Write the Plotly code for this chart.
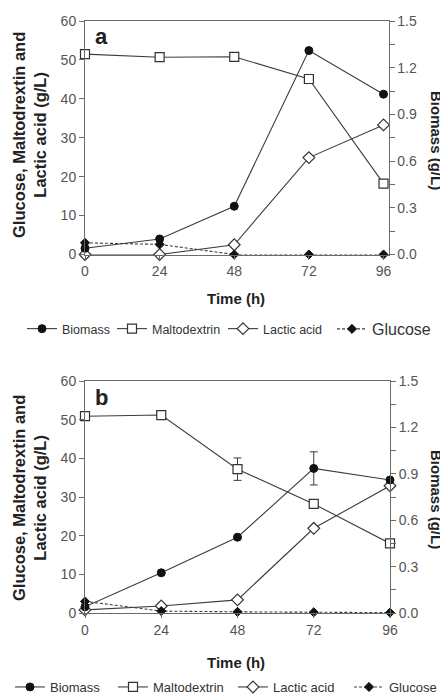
import plotly.graph_objects as go

# ---------------- data ----------------
time_h = [0, 24, 48, 72, 96]
x_tick_vals = [0, 24, 48, 72, 96]
left_tick_vals = [0, 10, 20, 30, 40, 50, 60]
right_tick_vals = [0.0, 0.3, 0.6, 0.9, 1.2, 1.5]
right_tick_text = ["0.0", "0.3", "0.6", "0.9", "1.2", "1.5"]

series_names = ["Biomass", "Maltodextrin", "Lactic acid", "Glucose"]

# Panel a
a_biomass = [0.04, 0.10, 0.31, 1.31, 1.03]          # g/L, right axis
a_biomass_err = [0, 0, 0, 0, 0]
a_maltodextrin = [51.5, 50.7, 50.8, 45.1, 18.2]     # g/L, left axis
a_maltodextrin_err = [0, 0, 0, 1.0, 0]
a_lactic = [0.0, 0.0, 2.5, 24.9, 33.3]
a_glucose = [3.0, 2.6, 0.0, 0.0, 0.0]

# Panel b
b_biomass = [0.04, 0.26, 0.49, 0.935, 0.86]
b_biomass_err = [0, 0, 0, 0.107, 0]
b_maltodextrin = [50.9, 51.2, 37.2, 28.2, 18.0]
b_maltodextrin_err = [0, 0, 2.9, 0, 0]
b_lactic = [0.8, 1.8, 3.4, 21.9, 32.9]
b_glucose = [3.0, 0.5, 0.3, 0.2, 0.1]

# ---------------- style ----------------
OFF = 8                      # page body margin
W, H = 448 - OFF, 697 - OFF
FONT = "Liberation Sans, Arial, Helvetica, sans-serif"
LINE = "#3c3c3c"
AXIS = "#6a6a6a"
TICKC = "#555555"


def px_x(p):
    return (p - OFF) / W


def px_y(p):
    return 1 - (p - OFF) / H


fig = go.Figure()


def add_panel(xa, yl, yr, biomass, biomass_err, malto, malto_err, lactic, glucose, legends):
    common = dict(x=time_h, mode="lines+markers", cliponaxis=False, xaxis=xa)
    fig.add_trace(go.Scatter(
        **common, y=biomass, yaxis=yr, name=series_names[0], legend=legends[0],
        line=dict(color=LINE, width=1.1),
        marker=dict(symbol="circle", size=8, color="#111111", line=dict(color="#111111", width=1)),
        error_y=dict(type="data", array=biomass_err, color=LINE, thickness=1, width=4,
                     visible=any(biomass_err)),
    ))
    fig.add_trace(go.Scatter(
        **common, y=malto, yaxis=yl, name=series_names[1], legend=legends[1],
        line=dict(color=LINE, width=1.1),
        marker=dict(symbol="square", size=9, color="white", line=dict(color="#333333", width=1.2)),
        error_y=dict(type="data", array=malto_err, color=LINE, thickness=1, width=4,
                     visible=any(malto_err)),
    ))
    fig.add_trace(go.Scatter(
        **common, y=lactic, yaxis=yl, name=series_names[2], legend=legends[2],
        line=dict(color=LINE, width=1.1),
        marker=dict(symbol="diamond", size=9, color="white", line=dict(color="#333333", width=1.2)),
    ))
    fig.add_trace(go.Scatter(
        **common, y=glucose, yaxis=yl, name=series_names[3], legend=legends[3],
        line=dict(color=LINE, width=1.1, dash="3px,2px"),
        marker=dict(symbol="diamond", size=7, color="#111111", line=dict(color="#111111", width=1)),
    ))


leg_ids_a = ["legend", "legend2", "legend3", "legend4"]
leg_ids_b = ["legend5", "legend6", "legend7", "legend8"]
add_panel("x", "y", "y2", a_biomass, a_biomass_err, a_maltodextrin, a_maltodextrin_err,
          a_lactic, a_glucose, leg_ids_a)
add_panel("x2", "y3", "y4", b_biomass, b_biomass_err, b_maltodextrin, b_maltodextrin_err,
          b_lactic, b_glucose, leg_ids_b)

tickfont = dict(family=FONT, size=14, color=TICKC)

xcommon = dict(tickmode="array", tickvals=x_tick_vals, showline=True, linecolor=AXIS, linewidth=1,
               mirror=True, ticks="outside", ticklen=4, tickcolor=AXIS, showgrid=False,
               zeroline=False, tickfont=tickfont)
ylcommon = dict(range=[0, 60], tickmode="array", tickvals=left_tick_vals, showline=True,
                linecolor=AXIS, linewidth=1, ticks="outside", ticklen=5, tickcolor=AXIS,
                showgrid=False, zeroline=False, tickfont=tickfont)
yrcommon = dict(range=[0, 1.5], tickmode="array", tickvals=right_tick_vals, ticktext=right_tick_text,
                side="right", showline=True, linecolor=AXIS, linewidth=1, ticks="outside",
                ticklen=5, tickcolor=AXIS, showgrid=False, zeroline=False, tickfont=tickfont,
                minor=dict(tickmode="linear", tick0=0, dtick=0.15, ticks="outside", ticklen=5,
                           tickcolor=AXIS, showgrid=False))

fig.update_layout(
    width=W, height=H,
    margin=dict(l=0, r=0, t=0, b=0, autoexpand=False),
    paper_bgcolor="white", plot_bgcolor="white",
    showlegend=True,
    font=dict(family=FONT, color="#222222"),
    xaxis=dict(**xcommon, domain=[px_x(85), px_x(388.5)], range=[0, 97.6], anchor="y"),
    yaxis=dict(**ylcommon, domain=[px_y(254.5), px_y(21)], anchor="x"),
    yaxis2=dict(**yrcommon, overlaying="y", anchor="x"),
    xaxis2=dict(**xcommon, domain=[px_x(85), px_x(390)], range=[0, 96], anchor="y3"),
    yaxis3=dict(**ylcommon, domain=[px_y(613), px_y(381)], anchor="x2"),
    yaxis4=dict(**yrcommon, overlaying="y3", anchor="x2"),
)

# legends: one per entry, placed like the original key rows
leg_a_x = [22, 112, 223, 332]
leg_b_x = [10, 113, 233, 349]
for i, lid in enumerate(leg_ids_a):
    size = 16 if i == 3 else 12.5
    fig.update_layout({lid: dict(x=px_x(leg_a_x[i]), y=px_y(329), xanchor="left", yanchor="middle",
                                 orientation="h", bgcolor="rgba(0,0,0,0)", borderwidth=0,
                                 font=dict(family=FONT, size=size, color="#333333"))})
for i, lid in enumerate(leg_ids_b):
    fig.update_layout({lid: dict(x=px_x(leg_b_x[i]), y=px_y(687), xanchor="left", yanchor="middle",
                                 orientation="h", bgcolor="rgba(0,0,0,0)", borderwidth=0,
                                 font=dict(family=FONT, size=13, color="#333333"))})

ann = []


def add_ann(text, xp, yp, size, angle=0):
    ann.append(dict(text=text, x=px_x(xp), y=px_y(yp), xref="paper", yref="paper",
                    xanchor="center", yanchor="middle", textangle=angle, showarrow=False,
                    font=dict(family=FONT, size=size, color="#222")))


add_ann("<b>a</b>", 101, 36, 22)
add_ann("<b>b</b>", 101, 397, 22)
for yc in (135, 498):
    add_ann("<b>Glucose, Maltodrextin and<br>Lactic acid (g/L)</b>", 29, yc, 16.5, -90)
for yc in (140, 499):
    add_ann("<b>Biomass (g/L)</b>", 437, yc, 15, 90)
for yc in (299, 662):
    add_ann("<b>Time (h)</b>", 236, yc, 15)
fig.update_layout(annotations=ann)

fig.write_html("out.html")
